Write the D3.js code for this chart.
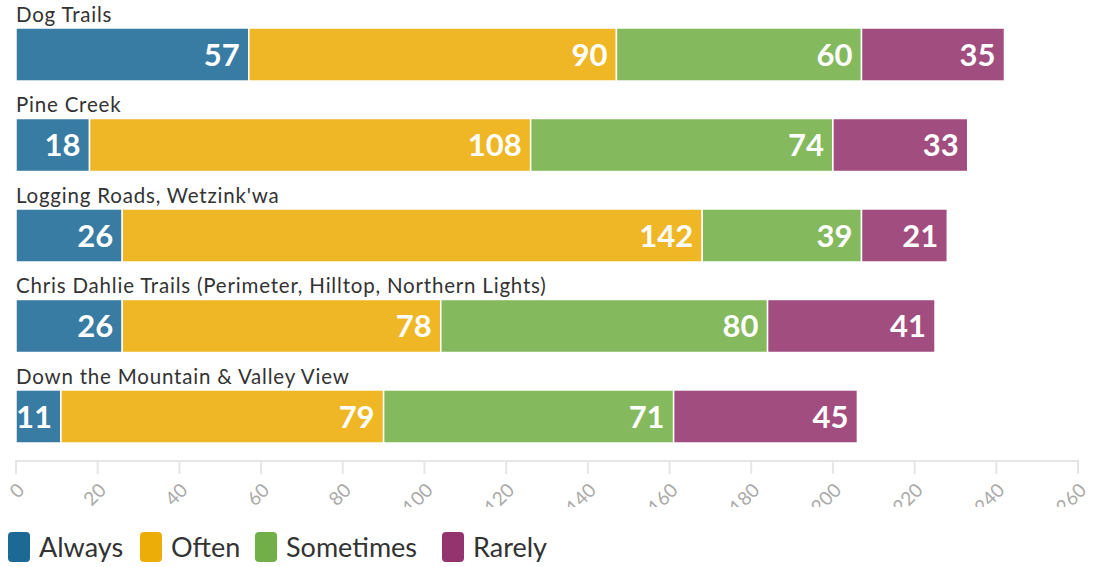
<!DOCTYPE html>
<html>
<head>
<meta charset="utf-8">
<script src="https://cdn.jsdelivr.net/npm/d3@7"></script>
<style>
  html, body { margin: 0; padding: 0; background: #fff; }
  svg { display: block; font-family: "Source Sans Pro", Lato, "Noto Sans", sans-serif; }
</style>
</head>
<body>
<svg id="chart" width="1095" height="567"></svg>
<script>
// Trail usage frequency by trail
const trails = [
  "Dog Trails",
  "Pine Creek",
  "Logging Roads, Wetzink'wa",
  "Chris Dahlie Trails (Perimeter, Hilltop, Northern Lights)",
  "Down the Mountain & Valley View"
];
const seriesNames = ["Always", "Often", "Sometimes", "Rarely"];
const always    = [57, 18, 26, 26, 11];
const often     = [90, 108, 142, 78, 79];
const sometimes = [60, 74, 39, 80, 71];
const rarely    = [35, 33, 21, 41, 45];
const xTicks = [0, 20, 40, 60, 80, 100, 120, 140, 160, 180, 200, 220, 240, 260];
const colors = ["#1d6996", "#edad08", "#73af48", "#94346e"];

const seriesValues = [always, often, sometimes, rarely];
const rows = trails.map((t, i) => {
  const r = { trail: t };
  seriesNames.forEach((s, j) => r[s] = seriesValues[j][i]);
  return r;
});

const svg = d3.select("#chart");
const x = d3.scaleLinear().domain([0, 260]).range([16, 1078]);
const y = d3.scaleBand().domain(trails).range([28, 443]).paddingInner(0.414).paddingOuter(0);
const color = d3.scaleOrdinal().domain(seriesNames).range(colors);

const stacked = d3.stack().keys(seriesNames)(rows);

// bars
const layers = svg.append("g").selectAll("g")
  .data(stacked).join("g")
  .attr("fill", d => color(d.key));

layers.selectAll("rect")
  .data(d => d.map(v => ({ key: d.key, v })))
  .join("rect")
  .attr("x", d => x(d.v[0]))
  .attr("y", d => y(d.v.data.trail))
  .attr("width", d => x(d.v[1]) - x(d.v[0]))
  .attr("height", y.bandwidth())
  .attr("fill-opacity", 0.88)
  .attr("stroke", "#fff")
  .attr("stroke-width", 1.5);

// value labels
layers.selectAll("text")
  .data(d => d.map(v => ({ key: d.key, v })))
  .join("text")
  .attr("x", d => x(d.v[1]) - 9)
  .attr("y", d => y(d.v.data.trail) + y.bandwidth() / 2)
  .attr("dy", "0.36em")
  .attr("text-anchor", "end")
  .attr("fill", "#fff")
  .attr("font-weight", 700)
  .attr("font-size", 31)
  .text(d => d.v.data[d.key]);

// category labels above each bar
svg.append("g").selectAll("text")
  .data(trails).join("text")
  .attr("x", 16)
  .attr("y", d => y(d) - 6)
  .attr("fill", "#333")
  .attr("font-size", 20.5)
  .attr("letter-spacing", 0.8)
  .text(d => d);

// x axis
svg.append("defs").append("clipPath").attr("id", "axisClip")
  .append("rect").attr("x", 0).attr("y", 440).attr("width", 1095).attr("height", 67);

const axis = svg.append("g").attr("clip-path", "url(#axisClip)");
axis.append("line")
  .attr("x1", x(0) - 1).attr("x2", x(260) + 1)
  .attr("y1", 461).attr("y2", 461)
  .attr("stroke", "#e6e6e6").attr("stroke-width", 2);
axis.selectAll("line.tick")
  .data(xTicks).join("line").attr("class", "tick")
  .attr("x1", d => x(d)).attr("x2", d => x(d))
  .attr("y1", 461).attr("y2", 474)
  .attr("stroke", "#e6e6e6").attr("stroke-width", 2);
axis.selectAll("text")
  .data(xTicks).join("text")
  .attr("transform", d => `translate(${x(d) + 9.5},491.5) rotate(-45)`)
  .attr("text-anchor", "end")
  .attr("fill", "#aaa")
  .attr("font-size", 19)
  .text(d => d);

// legend
const legendX = [8, 140, 255, 442];
const legend = svg.append("g").selectAll("g")
  .data(seriesNames).join("g")
  .attr("transform", (d, i) => `translate(${legendX[i]},532)`);
legend.append("rect")
  .attr("width", 22).attr("height", 30).attr("rx", 4)
  .attr("fill", d => color(d));
legend.append("text")
  .attr("x", 31).attr("y", 15).attr("dy", "0.36em")
  .attr("fill", "#333").attr("font-size", 27)
  .text(d => d);
</script>
</body>
</html>
